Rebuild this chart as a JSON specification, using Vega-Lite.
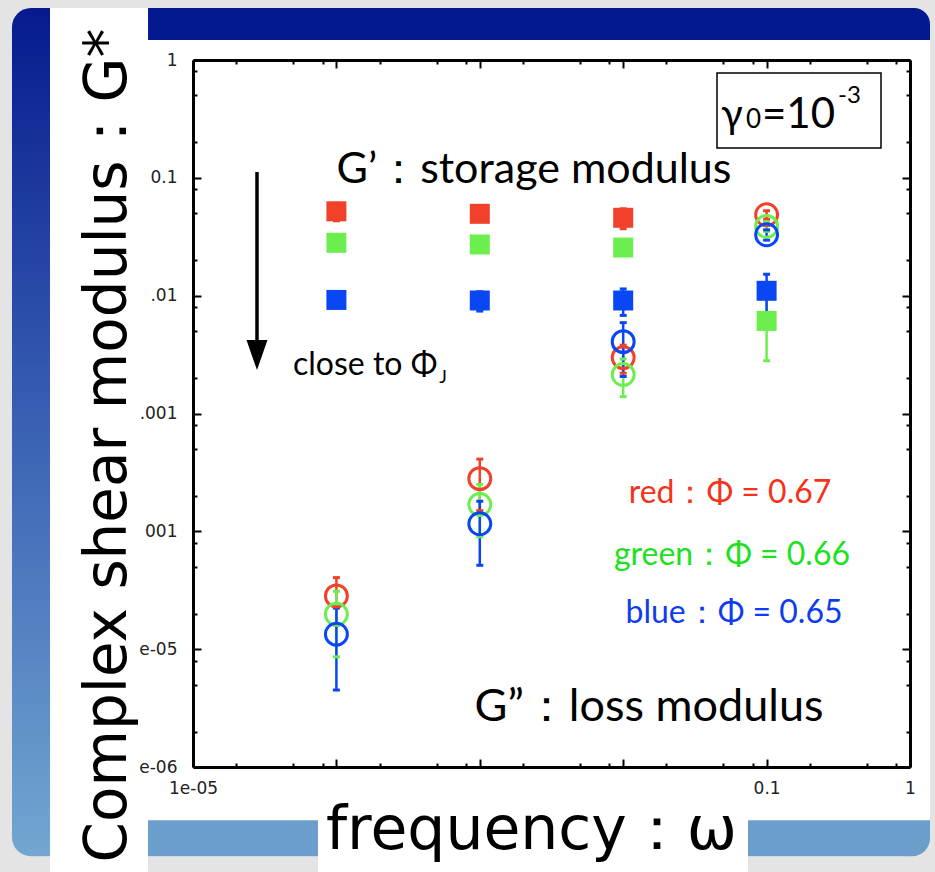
{
  "$schema": "https://vega.github.io/schema/vega-lite/v6.json",
  "width": 717,
  "height": 707,
  "autosize": {"type": "none"},
  "padding": {"left": 193, "top": 60, "right": 25, "bottom": 105},
  "background": "#E4E4E4",
  "config": {
    "view": {"stroke": null},
    "axis": {
      "zindex": 1,
      "domain": false,
      "grid": false,
      "tickColor": "#000000",
      "tickWidth": 2,
      "labelFont": "DejaVu Sans",
      "labelFontSize": 17,
      "labelColor": "#222222",
      "titleFont": "DejaVu Sans",
      "titleFontSize": 60,
      "titleFontWeight": "normal",
      "titleColor": "#000000"
    }
  },
  "datasets": {
    "moduli": [
      {"modulus": "G'", "phi": "0.67", "freq": 0.0001, "G": 0.052, "lo": 0.0432, "hi": 0.0608},
      {"modulus": "G'", "phi": "0.67", "freq": 0.001, "G": 0.0495, "lo": 0.046, "hi": 0.053},
      {"modulus": "G'", "phi": "0.67", "freq": 0.01, "G": 0.0458, "lo": 0.037, "hi": 0.0546},
      {"modulus": "G'", "phi": "0.66", "freq": 0.0001, "G": 0.0281, "lo": 0.026, "hi": 0.0302},
      {"modulus": "G'", "phi": "0.66", "freq": 0.001, "G": 0.0272, "lo": 0.025, "hi": 0.0294},
      {"modulus": "G'", "phi": "0.66", "freq": 0.01, "G": 0.0256, "lo": 0.0236, "hi": 0.0276},
      {"modulus": "G'", "phi": "0.66", "freq": 0.1, "G": 0.0061, "lo": 0.0028, "hi": 0.0094},
      {"modulus": "G'", "phi": "0.65", "freq": 0.0001, "G": 0.0092, "lo": 0.0086, "hi": 0.0098},
      {"modulus": "G'", "phi": "0.65", "freq": 0.001, "G": 0.0091, "lo": 0.0074, "hi": 0.0108},
      {"modulus": "G'", "phi": "0.65", "freq": 0.01, "G": 0.0091, "lo": 0.0068, "hi": 0.0114},
      {"modulus": "G'", "phi": "0.65", "freq": 0.1, "G": 0.011, "lo": 0.0064, "hi": 0.0152},
      {"modulus": "G''", "phi": "0.67", "freq": 0.0001, "G": 0.0000283, "lo": 0.000016, "hi": 0.0000405},
      {"modulus": "G''", "phi": "0.67", "freq": 0.001, "G": 0.00028, "lo": 0.00015, "hi": 0.00041},
      {"modulus": "G''", "phi": "0.67", "freq": 0.01, "G": 0.00298, "lo": 0.0022, "hi": 0.0038},
      {"modulus": "G''", "phi": "0.67", "freq": 0.1, "G": 0.0486, "lo": 0.0446, "hi": 0.0526},
      {"modulus": "G''", "phi": "0.66", "freq": 0.0001, "G": 0.0000198, "lo": 0.0000086, "hi": 0.000031},
      {"modulus": "G''", "phi": "0.66", "freq": 0.001, "G": 0.000169, "lo": 0.00009, "hi": 0.00025},
      {"modulus": "G''", "phi": "0.66", "freq": 0.01, "G": 0.00214, "lo": 0.00139, "hi": 0.0029},
      {"modulus": "G''", "phi": "0.66", "freq": 0.1, "G": 0.0387, "lo": 0.0352, "hi": 0.0422},
      {"modulus": "G''", "phi": "0.65", "freq": 0.0001, "G": 0.0000134, "lo": 0.0000045, "hi": 0.0000223},
      {"modulus": "G''", "phi": "0.65", "freq": 0.001, "G": 0.000116, "lo": 0.0000515, "hi": 0.00018},
      {"modulus": "G''", "phi": "0.65", "freq": 0.01, "G": 0.00407, "lo": 0.00206, "hi": 0.0059},
      {"modulus": "G''", "phi": "0.65", "freq": 0.1, "G": 0.0329, "lo": 0.0296, "hi": 0.0362}
    ]
  },
  "layer": [
    {
      "data": {"values": [{}]},
      "mark": {"type": "rect", "fill": "#FFFFFF", "cornerRadius": 26},
      "encoding": {
        "x": {"datum": 5.466e-7, "type": "quantitative", "scale": {"type": "log", "domain": [0.00001, 1], "nice": false}, "axis": null},
        "x2": {"datum": 1.379},
        "y": {"datum": 2.763, "type": "quantitative", "scale": {"type": "log", "domain": [0.000001, 1], "nice": false}, "axis": null},
        "y2": {"datum": 1.749e-7}
      }
    },
    {
      "data": {"values": [{}]},
      "mark": {"type": "rect", "cornerRadiusTopLeft": 26, "cornerRadiusBottomLeft": 26,
        "fill": {"gradient": "linear", "x1": 0, "y1": 0, "x2": 0, "y2": 1,
          "stops": [{"offset": 0, "color": "#061A8E"}, {"offset": 0.5, "color": "#3A62B4"}, {"offset": 1, "color": "#73A7D1"}]}},
      "encoding": {
        "x": {"datum": 5.466e-7, "type": "quantitative", "scale": {"type": "log", "domain": [0.00001, 1], "nice": false}, "axis": null},
        "x2": {"datum": 1.0064e-6},
        "y": {"datum": 2.763, "type": "quantitative", "scale": {"type": "log", "domain": [0.000001, 1], "nice": false}, "axis": null},
        "y2": {"datum": 1.749e-7}
      }
    },
    {
      "data": {"values": [{}]},
      "mark": {"type": "rect", "fill": "#04198F", "cornerRadiusTopRight": 26},
      "encoding": {
        "x": {"datum": 4.856e-6, "type": "quantitative", "scale": {"type": "log", "domain": [0.00001, 1], "nice": false}, "axis": null},
        "x2": {"datum": 1.379},
        "y": {"datum": 2.763, "type": "quantitative", "scale": {"type": "log", "domain": [0.000001, 1], "nice": false}, "axis": null},
        "y2": {"datum": 1.4787}
      }
    },
    {
      "data": {"values": [{}]},
      "mark": {"type": "rect", "fill": "#6B9ECB"},
      "encoding": {
        "x": {"datum": 4.856e-6, "type": "quantitative", "scale": {"type": "log", "domain": [0.00001, 1], "nice": false}, "axis": null},
        "x2": {"datum": 0.0000744},
        "y": {"datum": 3.535e-7, "type": "quantitative", "scale": {"type": "log", "domain": [0.000001, 1], "nice": false}, "axis": null},
        "y2": {"datum": 1.749e-7}
      }
    },
    {
      "data": {"values": [{}]},
      "mark": {"type": "rect", "fill": "#6B9ECB", "cornerRadiusBottomRight": 26},
      "encoding": {
        "x": {"datum": 0.07419, "type": "quantitative", "scale": {"type": "log", "domain": [0.00001, 1], "nice": false}, "axis": null},
        "x2": {"datum": 1.379},
        "y": {"datum": 3.535e-7, "type": "quantitative", "scale": {"type": "log", "domain": [0.000001, 1], "nice": false}, "axis": null},
        "y2": {"datum": 1.749e-7}
      }
    },
    {
      "data": {"values": [{}]},
      "mark": {"type": "rect", "fill": "#FFFFFF"},
      "encoding": {
        "x": {"datum": 1.0064e-6, "type": "quantitative", "scale": {"type": "log", "domain": [0.00001, 1], "nice": false}, "axis": null},
        "x2": {"datum": 4.856e-6},
        "y": {"datum": 2.556, "type": "quantitative", "scale": {"type": "log", "domain": [0.000001, 1], "nice": false}, "axis": null},
        "y2": {"datum": 1.2e-7}
      }
    },
    {
      "data": {"values": [{}]},
      "mark": {"type": "rect", "fill": "#FFFFFF"},
      "encoding": {
        "x": {"datum": 0.0000744, "type": "quantitative", "scale": {"type": "log", "domain": [0.00001, 1], "nice": false}, "axis": null},
        "x2": {"datum": 0.07419},
        "y": {"datum": 4.0e-7, "type": "quantitative", "scale": {"type": "log", "domain": [0.000001, 1], "nice": false}, "axis": null},
        "y2": {"datum": 1.2e-7}
      }
    },
    {
      "data": {"values": [{}]},
      "mark": {"type": "rect", "fill": "#FFFFFF", "stroke": "#000000", "strokeWidth": 1.5},
      "encoding": {
        "x": {"datum": 0.04509, "type": "quantitative", "scale": {"type": "log", "domain": [0.00001, 1], "nice": false}, "axis": null},
        "x2": {"datum": 0.6278},
        "y": {"datum": 0.7757, "type": "quantitative", "scale": {"type": "log", "domain": [0.000001, 1], "nice": false}, "axis": null},
        "y2": {"datum": 0.1791}
      }
    },
    {
      "data": {"values": [{}]},
      "mark": {"type": "rule", "color": "#000000", "strokeWidth": 3.5},
      "encoding": {
        "x": {"datum": 0.00002794, "type": "quantitative", "scale": {"type": "log", "domain": [0.00001, 1], "nice": false}, "axis": null},
        "y": {"datum": 0.112, "type": "quantitative", "scale": {"type": "log", "domain": [0.000001, 1], "nice": false}, "axis": null},
        "y2": {"datum": 0.003453}
      }
    },
    {
      "data": {"values": [{}]},
      "mark": {"type": "point", "shape": "M-0.7,-1L0.7,-1L0,1Z", "size": 900, "filled": true, "color": "#000000", "opacity": 1},
      "encoding": {
        "x": {"datum": 0.00002794, "type": "quantitative", "scale": {"type": "log", "domain": [0.00001, 1], "nice": false}, "axis": null},
        "y": {"datum": 0.003131, "type": "quantitative", "scale": {"type": "log", "domain": [0.000001, 1], "nice": false}, "axis": null}
      }
    },
    {
      "data": {"name": "moduli"},
      "mark": {"type": "rule", "strokeWidth": 2.5},
      "encoding": {
        "x": {"field": "freq", "type": "quantitative", "scale": {"type": "log", "domain": [0.00001, 1], "nice": false},
          "axis": {"orient": "bottom", "zindex": 2, "values": [0.00002, 0.00005, 0.00008, 0.0002, 0.0005, 0.0008, 0.002, 0.005, 0.008, 0.02, 0.05, 0.08, 0.2, 0.5, 0.8], "tickSize": -4, "labels": false, "title": null}},
        "y": {"field": "lo", "type": "quantitative", "scale": {"type": "log", "domain": [0.000001, 1], "nice": false},
          "axis": {"orient": "left", "zindex": 2, "values": [0.000002, 0.000005, 0.000008, 0.00002, 0.00005, 0.00008, 0.0002, 0.0005, 0.0008, 0.002, 0.005, 0.008, 0.02, 0.05, 0.08, 0.2, 0.5, 0.8], "tickSize": -4, "labels": false, "title": null}},
        "y2": {"field": "hi"},
        "color": {"field": "phi", "type": "nominal", "scale": {"domain": ["0.67", "0.66", "0.65"], "range": ["#F2412A", "#6CEF4E", "#0A47F4"]}, "legend": null}
      }
    },
    {
      "data": {"name": "moduli"},
      "mark": {"type": "tick", "orient": "horizontal", "size": 7, "thickness": 3, "opacity": 1},
      "encoding": {
        "x": {"field": "freq", "type": "quantitative", "scale": {"type": "log", "domain": [0.00001, 1], "nice": false},
          "axis": {"orient": "top", "zindex": 2, "values": [0.00002, 0.00005, 0.00008, 0.0002, 0.0005, 0.0008, 0.002, 0.005, 0.008, 0.02, 0.05, 0.08, 0.2, 0.5, 0.8], "tickSize": -4, "labels": false, "title": null}},
        "y": {"field": "lo", "type": "quantitative", "scale": {"type": "log", "domain": [0.000001, 1], "nice": false},
          "axis": {"orient": "right", "zindex": 2, "values": [0.000002, 0.000005, 0.000008, 0.00002, 0.00005, 0.00008, 0.0002, 0.0005, 0.0008, 0.002, 0.005, 0.008, 0.02, 0.05, 0.08, 0.2, 0.5, 0.8], "tickSize": -4, "labels": false, "title": null}},
        "color": {"field": "phi", "type": "nominal", "scale": {"domain": ["0.67", "0.66", "0.65"], "range": ["#F2412A", "#6CEF4E", "#0A47F4"]}, "legend": null}
      }
    },
    {
      "data": {"name": "moduli"},
      "mark": {"type": "tick", "orient": "horizontal", "size": 7, "thickness": 3, "opacity": 1},
      "encoding": {
        "x": {"field": "freq", "type": "quantitative", "scale": {"type": "log", "domain": [0.00001, 1], "nice": false}, "axis": null},
        "y": {"field": "hi", "type": "quantitative", "scale": {"type": "log", "domain": [0.000001, 1], "nice": false}, "axis": null},
        "color": {"field": "phi", "type": "nominal", "scale": {"domain": ["0.67", "0.66", "0.65"], "range": ["#F2412A", "#6CEF4E", "#0A47F4"]}, "legend": null}
      }
    },
    {
      "data": {"name": "moduli"},
      "transform": [{"filter": "datum.modulus === \"G'\""}],
      "mark": {"type": "square", "size": 400, "opacity": 1, "filled": true},
      "encoding": {
        "x": {"field": "freq", "type": "quantitative", "scale": {"type": "log", "domain": [0.00001, 1], "nice": false},
          "axis": {"orient": "bottom", "zindex": 2, "domain": true, "domainColor": "#000000", "domainWidth": 3, "values": [0.00001, 0.0001, 0.001, 0.01, 0.1, 1], "tickSize": -8, "labelPadding": 21, "labelBaseline": "top", "labelFlush": false, "labelOverlap": false, "labelFontSize": 17, "labelColor": "#222222",
            "labelExpr": "datum.value < 0.00002 ? '1e-05' : (datum.value > 0.05 && datum.value < 0.5) ? '0.1' : datum.value > 0.5 ? '1' : ''",
            "title": "frequency：ω", "titleX": 338, "titleY": 81, "titleAlign": "center", "titleBaseline": "alphabetic"}},
        "y": {"field": "G", "type": "quantitative", "scale": {"type": "log", "domain": [0.000001, 1], "nice": false},
          "axis": {"orient": "left", "zindex": 2, "domain": true, "domainColor": "#000000", "domainWidth": 3, "values": [0.000001, 0.00001, 0.0001, 0.001, 0.01, 0.1, 1], "tickSize": -8, "labelPadding": 24, "labelAlign": "right", "labelBaseline": "middle", "labelFlush": false, "labelOverlap": false, "labelFontSize": 17, "labelColor": "#222222",
            "labelExpr": "datum.value > 0.5 ? '1' : datum.value > 0.05 ? '0.1' : datum.value > 0.005 ? '.01' : datum.value > 0.0005 ? '.001' : datum.value > 0.00005 ? '001' : datum.value > 0.000005 ? 'e-05' : 'e-06'",
            "title": "Complex shear modulus：G*", "titleFontSize": 58, "titleAngle": 270, "titleX": -68, "titleY": 385, "titleAlign": "center", "titleBaseline": "alphabetic"}},
        "color": {"field": "phi", "type": "nominal", "scale": {"domain": ["0.67", "0.66", "0.65"], "range": ["#F2412A", "#6CEF4E", "#0A47F4"]}, "legend": null}
      }
    },
    {
      "data": {"name": "moduli"},
      "transform": [{"filter": "datum.modulus === \"G''\""}],
      "mark": {"type": "point", "shape": "circle", "size": 480, "filled": false, "strokeWidth": 3, "opacity": 1},
      "encoding": {
        "x": {"field": "freq", "type": "quantitative", "scale": {"type": "log", "domain": [0.00001, 1], "nice": false},
          "axis": {"orient": "top", "zindex": 2, "domain": true, "domainColor": "#000000", "domainWidth": 3, "values": [0.00001, 0.0001, 0.001, 0.01, 0.1, 1], "tickSize": -8, "labels": false, "title": null}},
        "y": {"field": "G", "type": "quantitative", "scale": {"type": "log", "domain": [0.000001, 1], "nice": false},
          "axis": {"orient": "right", "zindex": 2, "domain": true, "domainColor": "#000000", "domainWidth": 3, "values": [0.000001, 0.00001, 0.0001, 0.001, 0.01, 0.1, 1], "tickSize": -8, "labels": false, "title": null}},
        "color": {"field": "phi", "type": "nominal", "scale": {"domain": ["0.67", "0.66", "0.65"], "range": ["#F2412A", "#6CEF4E", "#0A47F4"]}, "legend": null}
      }
    },
    {
      "data": {"values": [{}]},
      "mark": {"type": "text", "text": "G’：storage modulus", "font": "Lato", "fontSize": 43, "align": "center", "baseline": "middle", "color": "#000000"},
      "encoding": {
        "x": {"datum": 0.002388, "type": "quantitative", "scale": {"type": "log", "domain": [0.00001, 1], "nice": false}, "axis": null},
        "y": {"datum": 0.1164, "type": "quantitative", "scale": {"type": "log", "domain": [0.000001, 1], "nice": false}, "axis": null}
      }
    },
    {
      "data": {"values": [{}]},
      "mark": {"type": "text", "text": "G”：loss modulus", "font": "Lato", "fontSize": 45, "align": "center", "baseline": "middle", "color": "#000000"},
      "encoding": {
        "x": {"datum": 0.01513, "type": "quantitative", "scale": {"type": "log", "domain": [0.00001, 1], "nice": false}, "axis": null},
        "y": {"datum": 0.000003218, "type": "quantitative", "scale": {"type": "log", "domain": [0.000001, 1], "nice": false}, "axis": null}
      }
    },
    {
      "data": {"values": [{}]},
      "mark": {"type": "text", "text": "close to Φ", "font": "Lato", "fontSize": 32, "align": "left", "baseline": "middle", "color": "#000000"},
      "encoding": {
        "x": {"datum": 0.00004983, "type": "quantitative", "scale": {"type": "log", "domain": [0.00001, 1], "nice": false}, "axis": null},
        "y": {"datum": 0.002576, "type": "quantitative", "scale": {"type": "log", "domain": [0.000001, 1], "nice": false}, "axis": null}
      }
    },
    {
      "data": {"values": [{}]},
      "mark": {"type": "text", "text": "J", "font": "Lato", "fontSize": 18, "align": "left", "baseline": "middle", "color": "#000000"},
      "encoding": {
        "x": {"datum": 0.000522, "type": "quantitative", "scale": {"type": "log", "domain": [0.00001, 1], "nice": false}, "axis": null},
        "y": {"datum": 0.00199, "type": "quantitative", "scale": {"type": "log", "domain": [0.000001, 1], "nice": false}, "axis": null}
      }
    },
    {
      "data": {"values": [{}]},
      "mark": {"type": "text", "text": "red：Φ = 0.67", "font": "Lato", "fontSize": 32, "align": "center", "baseline": "middle", "color": "#F5321A"},
      "encoding": {
        "x": {"datum": 0.05556, "type": "quantitative", "scale": {"type": "log", "domain": [0.00001, 1], "nice": false}, "axis": null},
        "y": {"datum": 0.000211, "type": "quantitative", "scale": {"type": "log", "domain": [0.000001, 1], "nice": false}, "axis": null}
      }
    },
    {
      "data": {"values": [{}]},
      "mark": {"type": "text", "text": "green：Φ = 0.66", "font": "Lato", "fontSize": 32, "align": "center", "baseline": "middle", "color": "#1EE11E"},
      "encoding": {
        "x": {"datum": 0.05737, "type": "quantitative", "scale": {"type": "log", "domain": [0.00001, 1], "nice": false}, "axis": null},
        "y": {"datum": 0.00006281, "type": "quantitative", "scale": {"type": "log", "domain": [0.000001, 1], "nice": false}, "axis": null}
      }
    },
    {
      "data": {"values": [{}]},
      "mark": {"type": "text", "text": "blue：Φ = 0.65", "font": "Lato", "fontSize": 32, "align": "center", "baseline": "middle", "color": "#0E3CF0"},
      "encoding": {
        "x": {"datum": 0.05925, "type": "quantitative", "scale": {"type": "log", "domain": [0.00001, 1], "nice": false}, "axis": null},
        "y": {"datum": 0.00002021, "type": "quantitative", "scale": {"type": "log", "domain": [0.000001, 1], "nice": false}, "axis": null}
      }
    },
    {
      "data": {"values": [{}]},
      "mark": {"type": "text", "text": "γ", "font": "Lato", "fontSize": 40, "align": "left", "baseline": "alphabetic", "color": "#000000"},
      "encoding": {
        "x": {"datum": 0.04808, "type": "quantitative", "scale": {"type": "log", "domain": [0.00001, 1], "nice": false}, "axis": null},
        "y": {"datum": 0.2647, "type": "quantitative", "scale": {"type": "log", "domain": [0.000001, 1], "nice": false}, "axis": null}
      }
    },
    {
      "data": {"values": [{}]},
      "mark": {"type": "text", "text": "0", "font": "Lato", "fontSize": 26, "align": "left", "baseline": "alphabetic", "color": "#000000"},
      "encoding": {
        "x": {"datum": 0.07185, "type": "quantitative", "scale": {"type": "log", "domain": [0.00001, 1], "nice": false}, "axis": null},
        "y": {"datum": 0.2647, "type": "quantitative", "scale": {"type": "log", "domain": [0.000001, 1], "nice": false}, "axis": null}
      }
    },
    {
      "data": {"values": [{}]},
      "mark": {"type": "text", "text": "=10", "font": "Lato", "fontSize": 42, "align": "left", "baseline": "alphabetic", "color": "#000000"},
      "encoding": {
        "x": {"datum": 0.09288, "type": "quantitative", "scale": {"type": "log", "domain": [0.00001, 1], "nice": false}, "axis": null},
        "y": {"datum": 0.2647, "type": "quantitative", "scale": {"type": "log", "domain": [0.000001, 1], "nice": false}, "axis": null}
      }
    },
    {
      "data": {"values": [{}]},
      "mark": {"type": "text", "text": "-3", "font": "Lato", "fontSize": 24, "align": "left", "baseline": "alphabetic", "color": "#000000"},
      "encoding": {
        "x": {"datum": 0.3147, "type": "quantitative", "scale": {"type": "log", "domain": [0.00001, 1], "nice": false}, "axis": null},
        "y": {"datum": 0.4315, "type": "quantitative", "scale": {"type": "log", "domain": [0.000001, 1], "nice": false}, "axis": null}
      }
    }
  ],
  "resolve": {"axis": {"x": "independent", "y": "independent"}}
}
